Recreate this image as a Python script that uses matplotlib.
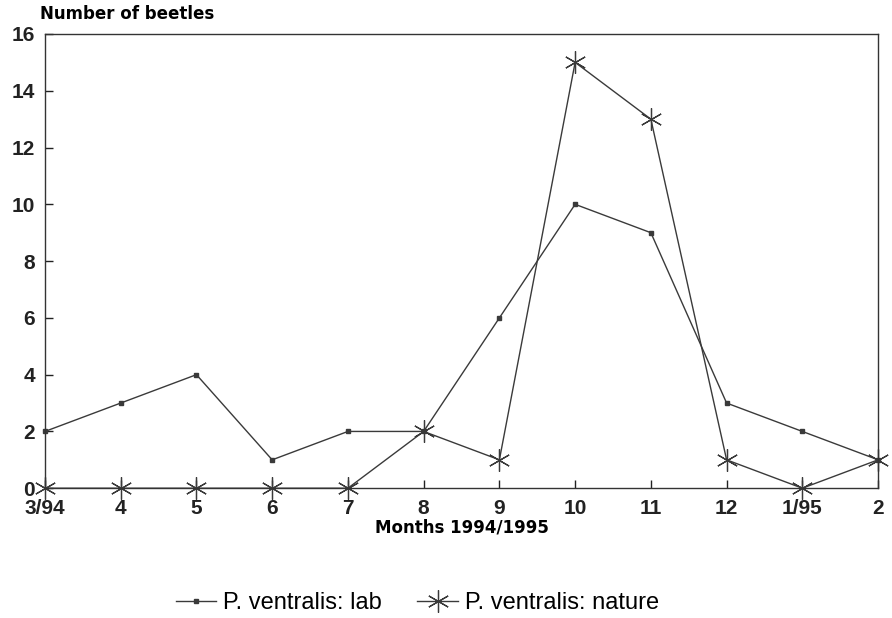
import matplotlib
matplotlib.use("Agg")
import matplotlib.pyplot as plt

plt.rcParams["font.family"] = ["Liberation Sans", "DejaVu Sans"]

months = ["3/94", "4", "5", "6", "7", "8", "9", "10", "11", "12", "1/95", "2"]
lab = [2, 3, 4, 1, 2, 2, 6, 10, 9, 3, 2, 1]
nature = [0, 0, 0, 0, 0, 2, 1, 15, 13, 1, 0, 1]
y_ticks = [0, 2, 4, 6, 8, 10, 12, 14, 16]

fig = plt.figure(figsize=(8.92, 6.18), dpi=100)
ax = fig.add_axes([0.0504, 0.210, 0.934, 0.735])

x = list(range(len(months)))
ax.plot(x, lab, "-", color="#3a3a3a", lw=1.0, marker="s", ms=3,
        clip_on=False, label="P. ventralis: lab")
ax.plot(x, nature, "-", color="#3a3a3a", lw=1.0, marker=(6, 2, 0), ms=16,
        mew=0.9, clip_on=False, label="P. ventralis: nature")

ax.set_xlim(0, len(months) - 1)
ax.set_ylim(0, 16)
ax.set_xticks(x)
ax.set_xticklabels(months)
ax.set_yticks(y_ticks)
ax.tick_params(direction="in", length=6, width=1, labelsize=15,
               colors="#222222")
ax.tick_params(axis="x", pad=8)
ax.tick_params(axis="y", pad=7)
for lbl in ax.get_xticklabels() + ax.get_yticklabels():
    lbl.set_fontweight("bold")
for s in ax.spines.values():
    s.set_color("#333333")
    s.set_linewidth(1.0)

ax.set_xlabel("Months 1994/1995", fontsize=12, fontweight="bold",
              family="DejaVu Sans", labelpad=0)
fig.text(0.045, 0.978, "Number of beetles", fontsize=12, fontweight="bold",
         family="DejaVu Sans", va="center", ha="left")

fig.legend(loc="center", bbox_to_anchor=(0.468, 0.024), ncol=2, frameon=False,
           fontsize=17, handlelength=1.7, handletextpad=0.3,
           columnspacing=1.5)

fig.savefig("out.png", dpi=100)
